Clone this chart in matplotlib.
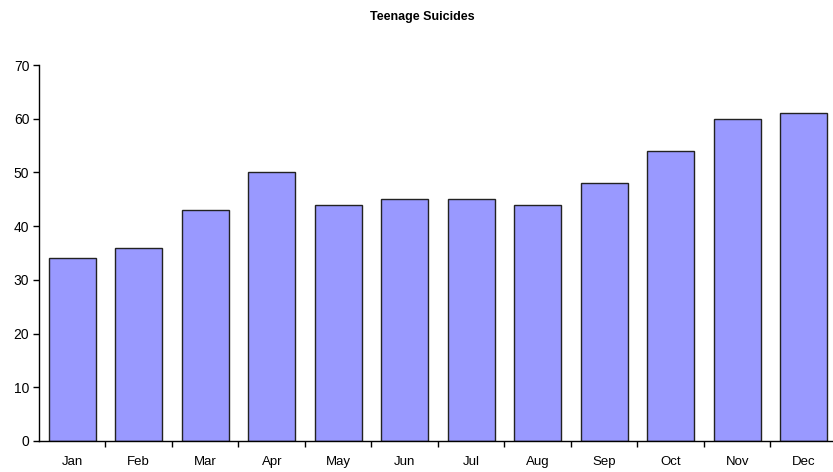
import numpy as np
import matplotlib
matplotlib.use("Agg")
import matplotlib.pyplot as plt

months = ["Jan", "Feb", "Mar", "Apr", "May", "Jun",
          "Jul", "Aug", "Sep", "Oct", "Nov", "Dec"]
suicides = [34, 36, 43, 50, 44, 45, 45, 44, 48, 54, 60, 61]
y_ticks = [0, 10, 20, 30, 40, 50, 60, 70]

plt.rcParams["font.family"] = ["Liberation Sans", "DejaVu Sans"]

fig = plt.figure(figsize=(8.33, 4.72), dpi=100)
ax = fig.add_axes([0.0468, 0.0657, 0.958, 0.7965])

x = np.arange(len(months))
ax.bar(x, suicides, width=0.71, color="#9999ff", edgecolor="#222222", linewidth=1.0)

ax.set_xlim(-0.5, len(months) - 0.5)
ax.set_ylim(0, 70)
ax.set_yticks(y_ticks)
ax.set_xticks(x)
ax.set_xticklabels(months)
ax.set_xticks(np.arange(len(months)) + 0.5, minor=True)
ax.tick_params(axis="x", which="major", length=0, pad=11, labelsize=9.5)
ax.tick_params(axis="x", which="minor", length=4, direction="out", width=1)
ax.tick_params(axis="y", length=4, direction="out", width=1, labelsize=10, pad=3)

for s in ["top", "right"]:
    ax.spines[s].set_visible(False)
for s in ["left", "bottom"]:
    ax.spines[s].set_linewidth(1.0)

fig.text(0.507, 0.965, "Teenage Suicides", ha="center", va="center",
         fontsize=9, fontweight="bold")

fig.savefig("out.png", dpi=100)
